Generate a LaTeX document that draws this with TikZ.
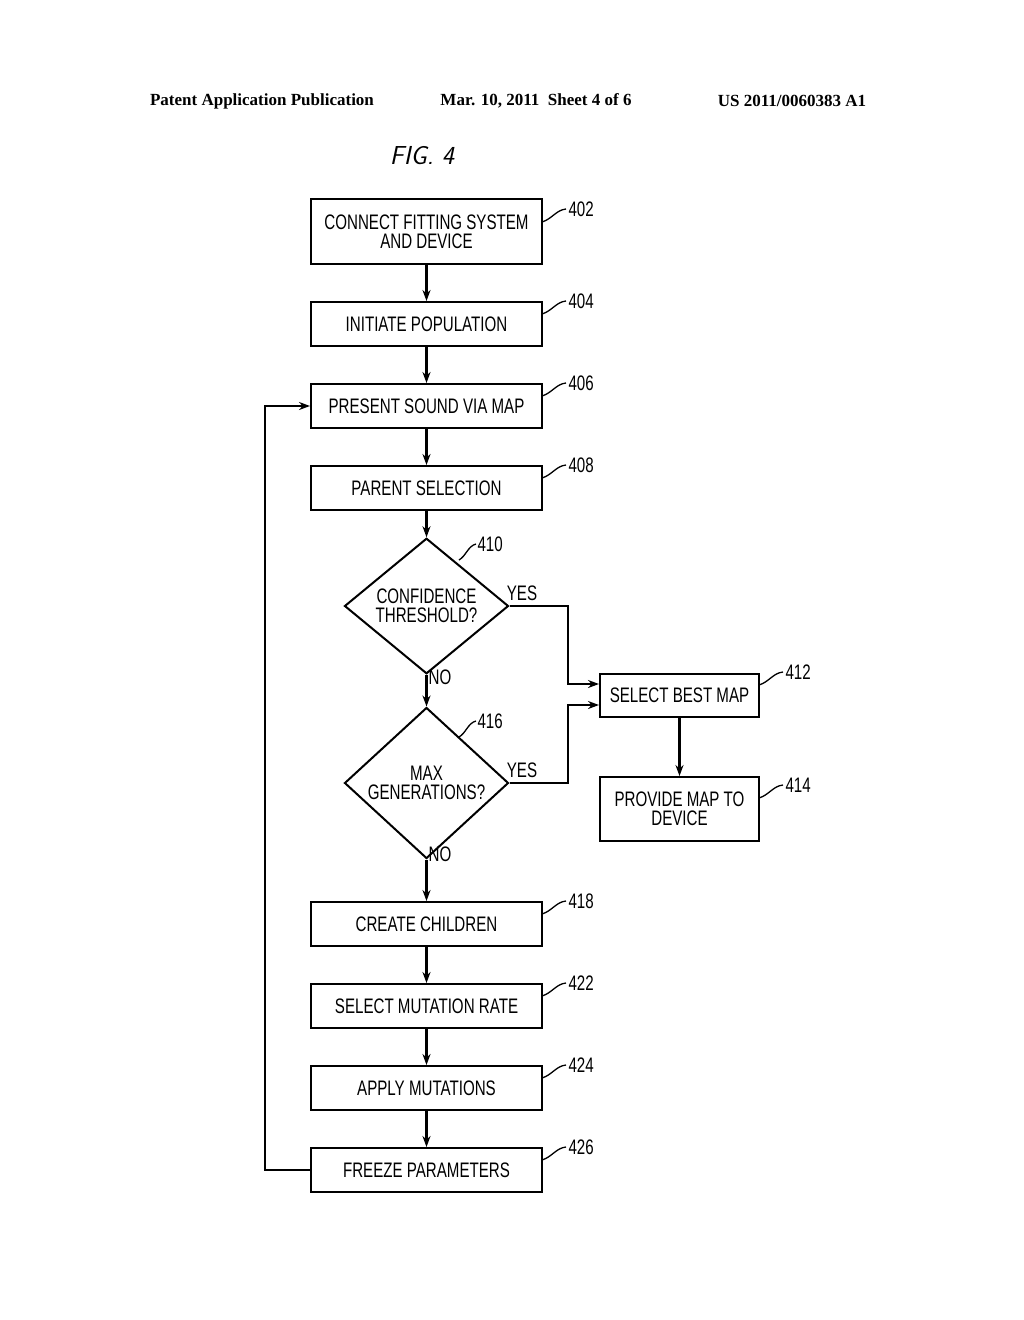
\documentclass[tikz,border=0pt]{standalone}
\usepackage{fontspec}
\setmainfont{Liberation Serif}
\newfontfamily\boxfont[FakeStretch=0.72]{Liberation Sans}
\usetikzlibrary{shapes.geometric,arrows.meta}
\begin{document}
\begin{tikzpicture}[x=1pt,y=-1pt,
  box/.style={draw,line width=2pt,minimum width=231pt,inner sep=0pt,align=center,font=\boxfont\fontsize{21}{22}\selectfont},
  dia/.style={draw,diamond,line width=2pt,minimum width=164pt,minimum height=114pt,inner sep=0pt,align=center,font=\boxfont\fontsize{21}{22}\selectfont},
  arr/.style={line width=2.2pt,-{Stealth[length=11pt,width=8pt]}},
  lab/.style={font=\boxfont\fontsize{21}{22}\selectfont},
  ref/.style={font=\boxfont\fontsize{21}{22}\selectfont,anchor=west},
  lead/.style={line width=1.3pt}]
\useasboundingbox (0,0) rectangle (1024,1320);
\node[font=\bfseries\fontsize{17}{18}\selectfont] (h1) at (262,101) {Patent Application Publication};
\node[font=\bfseries\fontsize{17}{18}\selectfont] (h2) at (536,101) {Mar. 10, 2011\ \ Sheet 4 of 6};
\node[font=\bfseries\fontsize{17}{18}\selectfont] (h3) at (792,101) {US 2011/0060383 A1};
\node[font=\sffamily\itshape\fontsize{26}{28}\selectfont] (fig) at (422,156) {FIG. 4};

\node[box,minimum height=65pt] (n402) at (426.5,231.5) {CONNECT FITTING SYSTEM\\[-3pt]AND DEVICE};
\node[box,minimum height=44pt] (n404) at (426.5,324) {INITIATE POPULATION};
\node[box,minimum height=44pt] (n406) at (426.5,406) {PRESENT SOUND VIA MAP};
\node[box,minimum height=44pt] (n408) at (426.5,488) {PARENT SELECTION};
\node[dia] (n410) at (426.5,606) {CONFIDENCE\\[-3pt]THRESHOLD?};
\node[dia] (n416) at (426.5,783) {MAX\\[-3pt]GENERATIONS?};
\node[box,minimum width=159pt,minimum height=43pt] (n412) at (679.5,695.5) {SELECT BEST MAP};
\node[box,minimum width=159pt,minimum height=64pt] (n414) at (679.5,809) {PROVIDE MAP TO\\[-3pt]DEVICE};
\node[box,minimum height=44pt] (n418) at (426.5,924) {CREATE CHILDREN};
\node[box,minimum height=44pt] (n422) at (426.5,1006) {SELECT MUTATION RATE};
\node[box,minimum height=44pt] (n424) at (426.5,1088) {APPLY MUTATIONS};
\node[box,minimum height=44pt] (n426) at (426.5,1170) {FREEZE PARAMETERS};

\draw[arr] (n402) -- (n404);
\draw[arr] (n404) -- (n406);
\draw[arr] (n406) -- (n408);
\draw[arr] (n408) -- (n410);
\draw[arr] (n410) -- (n416);
\draw[arr] (n416) -- (n418);
\draw[arr] (n418) -- (n422);
\draw[arr] (n422) -- (n424);
\draw[arr] (n424) -- (n426);
\draw[arr] (n412) -- (n414);
\draw[arr] (n410.east) -- (568,606) -- (568,684) -- (n412.west |- 0,684);
\draw[arr] (n416.east) -- (568,783) -- (568,705) -- (n412.west |- 0,705);
\draw[arr] (n426.west) -- (265,1170) -- (265,406) -- (n406.west);

\node[lab] (y1) at (522,593) {YES};
\node[lab] (y2) at (522,770) {YES};
\node[lab] (no1) at (440,677) {NO};
\node[lab] (no2) at (440,854) {NO};

\foreach \n/\x/\y in {402/542/222,404/542/314,406/542/396,408/542/478,418/542/914,422/542/996,424/542/1078,426/542/1160,412/759/685,414/759/798}{
  \draw[lead] (\x,\y) .. controls (\x+10,\y-3) and (\x+14,\y-12) .. (\x+24,\y-13);
  \node[ref] (r\n) at (\x+23,\y-13) {\n};
}
\draw[lead] (459,560) .. controls (466,556) and (468,546) .. (476,544);
\node[ref] (r410) at (474,544) {410};
\draw[lead] (459,737) .. controls (466,733) and (468,723) .. (476,721);
\node[ref] (r416) at (474,721) {416};
\end{tikzpicture}
\end{document}
